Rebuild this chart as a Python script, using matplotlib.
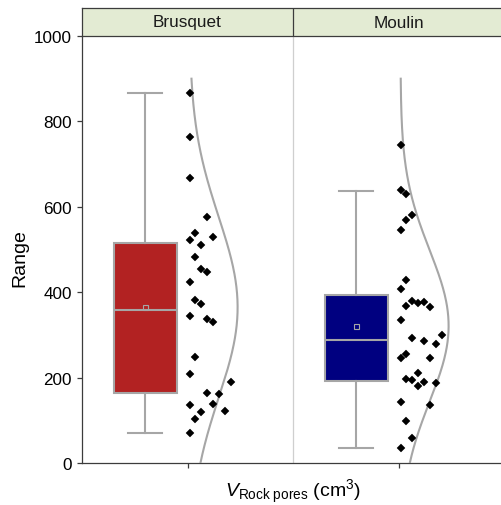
import numpy as np
import matplotlib
matplotlib.use("Agg")
import matplotlib.pyplot as plt

plt.rcParams['font.family'] = ['Liberation Sans', 'DejaVu Sans']
plt.rcParams['mathtext.fontset'] = 'custom'
plt.rcParams['mathtext.rm'] = 'Liberation Sans'
plt.rcParams['mathtext.it'] = 'Liberation Sans:italic'

# ---- data -------------------------------------------------------------
sites = ['Brusquet', 'Moulin']
box_colors = ['#B22222', '#000080']

brusquet_values = [866, 764, 667, 575, 538, 523, 530, 510, 482, 454, 447, 423,
                   382, 372, 344, 338, 331, 249, 208, 190, 163, 162, 137, 139,
                   120, 122, 103, 70]
brusquet_slots = [0, 0, 0, 3, 1, 0, 4, 2, 1, 2, 3, 0,
                  1, 2, 0, 3, 4, 1, 0, 7, 3, 5, 0, 4,
                  2, 6, 1, 0]

moulin_values = [744, 639, 631, 581, 570, 545, 428, 408, 368, 379, 374, 378,
                 366, 334, 292, 286, 278, 299, 245, 255, 246, 196, 194, 211,
                 180, 189, 187, 144, 137, 98, 59, 36]
moulin_slots = [0, 0, 1, 2, 1, 0, 1, 0, 1, 2, 3, 4,
                5, 0, 2, 4, 6, 7, 0, 1, 5, 1, 2, 3,
                3, 4, 6, 0, 5, 1, 2, 0]

# box statistics per site
q1 = [163, 192]
medians = [358, 289]
q3 = [515, 393]
whisker_low = [70, 36]
whisker_high = [866, 638]
means = [366, 321]

y_ticks = [0, 200, 400, 600, 800, 1000]

# ---- figure -----------------------------------------------------------
W, H = 501, 506
fig = plt.figure(figsize=(W / 100, H / 100), dpi=100)
ax = fig.add_axes([82 / W, (H - 464) / H, 422 / W, 427 / H])
hdr = fig.add_axes([82 / W, (H - 37) / H, 422 / W, 28 / H])

positions = np.arange(len(sites))
box_shift = -0.2
gray = '#A6A6A6'

stats = []
for i in range(len(sites)):
    stats.append(dict(med=medians[i], q1=q1[i], q3=q3[i],
                      whislo=whisker_low[i], whishi=whisker_high[i],
                      mean=means[i], fliers=[]))

bp = ax.bxp(stats, positions=positions + box_shift, widths=0.3,
            capwidths=0.16, showmeans=True, patch_artist=True,
            boxprops=dict(edgecolor=gray, linewidth=1.5),
            medianprops=dict(color=gray, linewidth=1.5),
            whiskerprops=dict(color=gray, linewidth=1.5),
            capprops=dict(color=gray, linewidth=1.5),
            meanprops=dict(marker='s', markerfacecolor='none',
                           markeredgecolor=gray, markersize=3.6,
                           markeredgewidth=0.8))
for patch, c in zip(bp['boxes'], box_colors):
    patch.set_facecolor(c)

# scattered data points and normal curves
point_start = 0.0095
slot_step = 0.0284
curve_amp = 0.228
curve_v = np.linspace(0, 900, 300)
for pos, vals, slots in zip(positions, [brusquet_values, moulin_values],
                            [brusquet_slots, moulin_slots]):
    vals = np.asarray(vals, float)
    xs = pos + point_start + np.asarray(slots) * slot_step
    ax.plot(xs, vals, linestyle='none', marker='D', markersize=4.0,
            color='black', markeredgewidth=0.3, zorder=5)
    mu, sd = vals.mean(), vals.std(ddof=1)
    dens = np.exp(-0.5 * ((curve_v - mu) / sd) ** 2)
    ax.plot(pos + point_start + curve_amp * dens, curve_v, color=gray,
            linewidth=1.5, zorder=4)

ax.axvline(0.5, color='#CFCFCF', linewidth=0.9, zorder=0)
ax.set_xlim(-0.5, 1.5)
ax.set_ylim(0, 1000)
ax.set_xticks(positions)
ax.set_xticklabels([''] * len(sites))
ax.set_yticks(y_ticks)
ax.set_yticklabels([str(t) for t in y_ticks])
spine_col = '#3C3C3C'
for s in ['top', 'right']:
    ax.spines[s].set_visible(False)
for s in ['left', 'bottom']:
    ax.spines[s].set_color(spine_col)
    ax.spines[s].set_linewidth(0.9)
ax.tick_params(direction='out', length=3.8, width=0.9, color=spine_col,
               labelsize=12.3, pad=3.5)

# header strip with site names
hdr.set_facecolor('#E3EBD3')
hdr.set_xlim(-0.5, 1.5)
hdr.set_ylim(0, 1)
hdr.set_xticks([])
hdr.set_yticks([])
for s in hdr.spines.values():
    s.set_color(spine_col)
    s.set_linewidth(0.9)
hdr.axvline(0.5, color=spine_col, linewidth=0.9)
for pos, name in zip(positions, sites):
    hdr.text(pos, 0.5, name, ha='center', va='center', fontsize=12.3,
             color='#1A1A1A')

fig.text(20 / W, 1 - 258 / H, 'Range', rotation=90, ha='center',
         va='center', fontsize=14)
fig.text(293 / W, 1 - 497 / H, r'$V_{\mathrm{Rock\ pores}}$ (cm$^{3}$)',
         ha='center', va='baseline', fontsize=14)

fig.savefig('out.png', dpi=100)
